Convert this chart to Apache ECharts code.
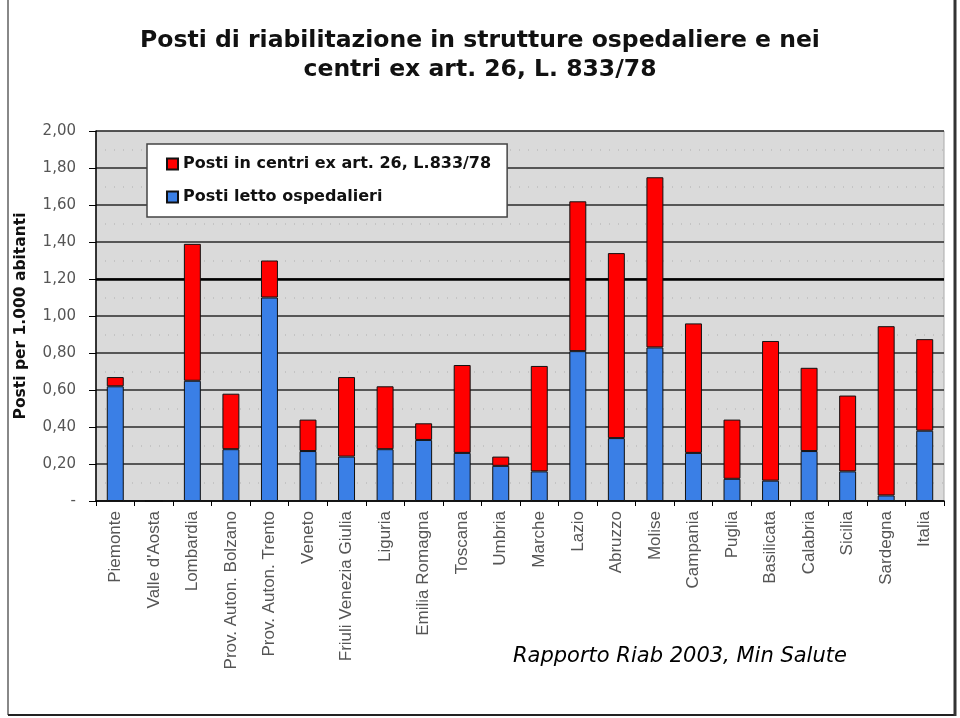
<!DOCTYPE html>
<html>
<head>
<meta charset="utf-8">
<script src="https://cdn.jsdelivr.net/npm/echarts@6/dist/echarts.min.js"></script>
<style>
html,body{margin:0;padding:0;background:#fff;}
#c{width:960px;height:718px;}
</style>
</head>
<body>
<div id="c"></div>
<script>
var categories = ["Piemonte","Valle d'Aosta","Lombardia","Prov. Auton. Bolzano","Prov. Auton. Trento","Veneto","Friuli Venezia Giulia","Liguria","Emilia Romagna","Toscana","Umbria","Marche","Lazio","Abruzzo","Molise","Campania","Puglia","Basilicata","Calabria","Sicilia","Sardegna","Italia"];
var ospedalieri = [0.62,0,0.65,0.28,1.10,0.27,0.24,0.28,0.33,0.26,0.19,0.16,0.81,0.34,0.83,0.26,0.12,0.11,0.27,0.16,0.03,0.38];
var centri = [0.05,0,0.74,0.30,0.20,0.17,0.43,0.34,0.09,0.475,0.05,0.57,0.81,1.00,0.92,0.70,0.32,0.755,0.45,0.41,0.915,0.495];
var seriesNames = ["Posti in centri ex art. 26, L.833/78","Posti letto ospedalieri"];
var titleLines = ["Posti di riabilitazione in strutture ospedaliere e nei","centri ex art. 26, L. 833/78"];
var yAxisName = "Posti per 1.000 abitanti";
var footnote = "Rapporto Riab 2003, Min Salute";

var chart = echarts.init(document.getElementById('c'));
chart.setOption({
  animation:false,
  backgroundColor:'#ffffff',
  title:{
    text: titleLines.join('\n'),
    left:'center', top:21,
    textStyle:{fontFamily:'DejaVu Sans', fontWeight:'bold', fontSize:23.5, color:'#111', lineHeight:29}
  },
  legend:{
    data: seriesNames,
    orient:'vertical',
    left:147, top:144,
    backgroundColor:'#ffffff',
    borderColor:'#444', borderWidth:1.5,
    padding:[12,16,12,19],
    itemWidth:11, itemHeight:11, itemGap:17,
    icon:'rect',
    textStyle:{fontFamily:'DejaVu Sans', fontWeight:'bold', fontSize:16, color:'#111'}
  },
  grid:{left:96, right:16, top:131, bottom:217, show:true, backgroundColor:'#dadada', borderColor:'#aaa', borderWidth:1},
  xAxis:{
    type:'category', data:categories,
    axisLine:{lineStyle:{color:'#000', width:1.5}},
    axisTick:{show:true, length:5, lineStyle:{color:'#000'}},
    axisLabel:{rotate:90, fontFamily:'Liberation Sans', fontSize:17, color:'#555', margin:10, interval:0}
  },
  yAxis:{
    type:'value', min:0, max:2, interval:0.2,
    name: yAxisName, nameLocation:'middle', nameGap:67,
    nameTextStyle:{fontFamily:'DejaVu Sans', fontWeight:'bold', fontSize:15.5, color:'#111'},
    axisLine:{show:true, lineStyle:{color:'#000', width:1.5}},
    axisTick:{show:true, length:7, lineStyle:{color:'#000'}},
    axisLabel:{fontFamily:'DejaVu Sans', fontSize:15, color:'#555', margin:20,
      formatter:function(v){ return v===0 ? '-' : v.toFixed(2).replace('.',','); }},
    splitLine:{show:true, lineStyle:{color:'#2a2a2a', width:1.5}},
    minorTick:{show:false, splitNumber:2},
    minorSplitLine:{show:true, lineStyle:{color:'#bdbdbd', type:[1,8], width:1.5}}
  },
  series:[
    {name:seriesNames[1], type:'bar', stack:'t', data:ospedalieri, barWidth:'44%', z:3,
     itemStyle:{color:'#3a7fe6', borderColor:'#111', borderWidth:1},
     markLine:{silent:true, z:1, symbol:'none', label:{show:false}, lineStyle:{color:'#000', width:2.5, type:'solid'}, data:[{yAxis:1.2}]}},
    {name:seriesNames[0], type:'bar', stack:'t', data:centri, barWidth:'44%', z:3,
     itemStyle:{color:'#ff0000', borderColor:'#111', borderWidth:1}}
  ],
  graphic:[
    {type:'text', left:513, top:646, style:{text:footnote, fontFamily:'DejaVu Sans', fontStyle:'italic', fontSize:21, fill:'#000'}},
    {type:'line', shape:{x1:8, y1:0, x2:8, y2:715}, style:{stroke:'#888', lineWidth:2}},
    {type:'line', shape:{x1:8, y1:715, x2:956, y2:715}, style:{stroke:'#222', lineWidth:2}},
    {type:'line', shape:{x1:955, y1:0, x2:955, y2:716}, style:{stroke:'#333', lineWidth:3}}
  ]
});
</script>
</body>
</html>
